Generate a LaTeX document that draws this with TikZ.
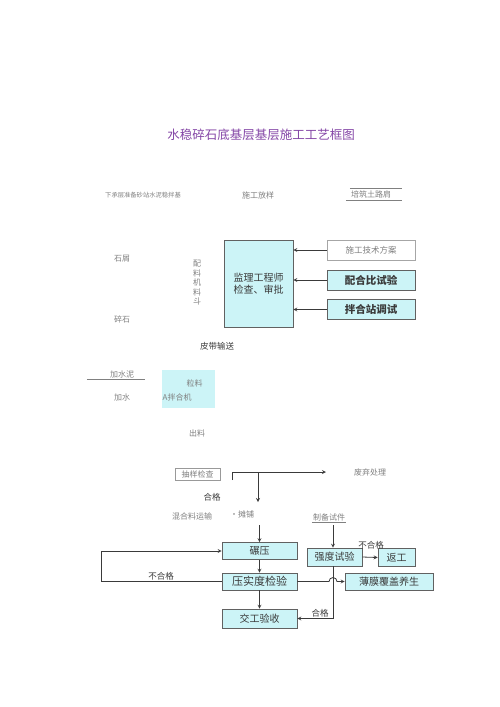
\documentclass[tikz,border=0pt]{standalone}
\usepackage{fontspec}
\setmainfont{Noto Sans CJK SC}
\usepackage{xcolor}
\usepackage{tikz}
\definecolor{boxcyan}{HTML}{CCF4F7}
\definecolor{titlepurple}{HTML}{8446A6}
\definecolor{linegray}{HTML}{3A3A3A}
\definecolor{faint}{HTML}{808080}

\begin{document}
\begin{tikzpicture}[
  x=1pt, y=-1pt,
  box/.style={draw=linegray!80, fill=#1, line width=0.6pt, inner sep=0pt, font=\fontsize{10}{12}\selectfont, text=linegray},
  note/.style={font=\fontsize{8}{9}\selectfont, text=faint, inner sep=1pt},
  lab/.style={font=\fontsize{8.5}{10}\selectfont, text=linegray, inner sep=1pt},
  arr/.style={->, >=stealth, line width=0.8pt, draw=linegray},
  rule/.style={line width=0.6pt, draw=faint}
]
  \useasboundingbox (0,0) rectangle (500,707);

  % ===== TITLE =====
  \node[font=\fontsize{12.5}{14}\selectfont, text=titlepurple] (title) at (261,135) {水稳碎石底基层基层施工工艺框图};

  % ===== PREPARATION =====
  \node[note, font=\fontsize{6.3}{7}\selectfont] (base) at (143,195) {下承层准备砂站水泥稳拌基};
  \node[note] (stake) at (258,195) {施工放样};
  \node[note] (shoulder) at (371,194) {培筑土路肩};
  \draw[rule] ([xshift=0pt,yshift=1pt]shoulder.north west) -- ([xshift=10pt,yshift=1pt]shoulder.north east);
  \draw[rule] ([xshift=-4pt,yshift=-1pt]shoulder.south west) -- ([xshift=10pt,yshift=-1pt]shoulder.south east);

  % ===== SUPERVISION =====
  \node[box=boxcyan, minimum width=69pt, minimum height=87pt, align=center] (super) at (258.5,283.5) {监理工程师\\检查、审批};

  \node[box=white, draw=faint!70, minimum width=88pt, minimum height=20pt, font=\fontsize{8.5}{10}\selectfont, text=faint] (plan) at (371,250) {施工技术方案};
  \node[box=boxcyan, minimum width=88pt, minimum height=20pt, font=\fontsize{10.5}{12}\bfseries] (mix) at (371,280) {配合比试验};
  \node[box=boxcyan, minimum width=88pt, minimum height=20pt, font=\fontsize{10.5}{12}\bfseries] (plant) at (371,309.5) {拌合站调试};

  \draw[arr] (plan.west) -- (plan.west -| super.east);
  \draw[arr] (mix.west) -- (mix.west -| super.east);
  \draw[arr] (plant.west) -- (plant.west -| super.east);

  % materials
  \node[note] (chips) at (122,259) {石屑};
  \node[note] (stone) at (122,319) {碎石};
  \node[note, align=center, font=\fontsize{8}{9.5}\selectfont] (hopper) at (197,283) {配\\料\\机\\料\\斗};
  \node[lab] (belt) at (217,346) {皮带输送};

  % ===== MIXING =====
  \node[note] (cement) at (122,374) {加水泥};
  \draw[rule] ([xshift=-22pt]cement.south west) -- ([xshift=10pt]cement.south east);
  \node[note] (water) at (122,397) {加水};

  \node[box=boxcyan, draw=none, minimum width=53pt, minimum height=38pt] (mixer) at (188.5,389) {};
  \node[note] (agg) at (194.5,383) {粒料};
  \node[note, anchor=west, inner sep=0pt] (amix) at (162.5,397) {A拌合机};
  \node[note] (out) at (197,433) {出料};

  % ===== SAMPLING =====
  \node[box=white, draw=faint!80, minimum width=45pt, minimum height=12pt, font=\fontsize{8}{9}\selectfont, text=faint] (sample) at (197.5,474) {抽样检查};
  \coordinate (s0) at (232,480);
  \coordinate (waste) at (326,472);
  \coordinate (split) at (258,472);
  \coordinate (pass) at (258,502);
  \draw[arr] (s0) |- (waste);
  \draw[arr] (split) -- (pass);
  \node[note] (dump) at (370,472) {废弃处理};
  \node[lab] (ok1) at (212,497) {合格};

  \node[note] (haul) at (192,516) {混合料运输};
  \node[note, anchor=west] (pave) at (229,514) {•摊铺};
  \node[note] (specimen) at (329,517) {制备试件};
  \draw[rule] (specimen.south west) -- (specimen.south east);

  % ===== COMPACTION =====
  \node[box=boxcyan, minimum width=75pt, minimum height=17pt] (roll) at (259.5,551) {碾压};
  \node[box=boxcyan, minimum width=75pt, minimum height=17pt, font=\fontsize{11}{12}\selectfont] (compact) at (259.5,581.5) {压实度检验};
  \node[box=boxcyan, minimum width=75pt, minimum height=19pt] (accept) at (259.5,618.5) {交工验收};
  \node[box=boxcyan, minimum width=55pt, minimum height=18pt] (strength) at (334.5,557) {强度试验};
  \node[box=boxcyan, minimum width=37pt, minimum height=18pt] (rework) at (396.5,557.5) {返工};
  \node[box=boxcyan, minimum width=88pt, minimum height=17pt] (cure) at (389,581.5) {薄膜覆盖养生};

  \coordinate (p0) at (259.5,525);
  \coordinate (t0) at (333,525);
  \draw[arr] (p0) -- (roll.north);
  \draw[arr] (t0) -- (t0 |- strength.north);
  \draw[arr] (roll) -- (compact);
  \draw[arr] (compact) -- (accept);
  \draw[arr] (compact.west) -- ++(-120,0) |- (roll.west);
  \node[lab, anchor=south] at (161,581) {不合格};
  \draw[arr] (strength.east) -- (rework.west);
  \node[lab] at (371,545) {不合格};
  \draw[arr] (t0 |- strength.south) -- (t0 |- accept.east) -- (accept.east);
  \node[lab] at (320,613) {合格};
  \draw[arr] (compact.east) -- (329,581.5) arc (180:0:4pt) -- (cure.west);
\end{tikzpicture}
\end{document}
